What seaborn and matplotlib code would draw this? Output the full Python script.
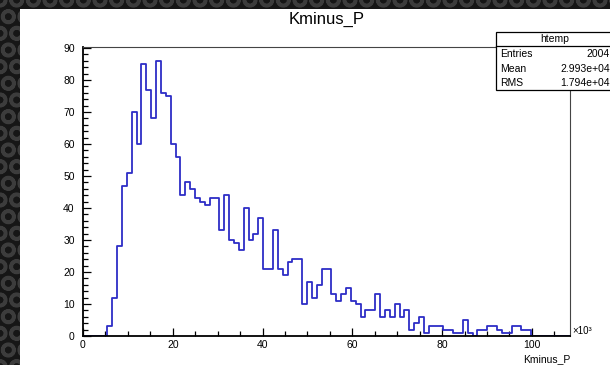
import numpy as np
import pandas as pd
import matplotlib.pyplot as plt
import matplotlib.patches as patches
from matplotlib.lines import Line2D
from matplotlib.ticker import MultipleLocator
import seaborn as sns

plt.rcParams['font.family'] = ['Liberation Sans', 'DejaVu Sans']
plt.rcParams['hatch.linewidth'] = 2.5

# htemp: 100 bins between 0 and 108.5 (x10^3), filled bins start at bin 5
x_range = (0, 108.5)
n_bins = 100
first_bin = 5
counts = [3, 12, 28, 47, 51, 70, 60, 85, 77, 68, 86, 76, 75, 60, 56,
          44, 48, 46, 43, 42, 41, 43, 43, 33, 44, 30, 29, 27, 40, 30, 32, 37,
          21, 21, 33, 21, 19, 23, 24, 24, 10, 17, 12, 16, 21, 21, 13, 11, 13, 15,
          11, 10, 6, 8, 8, 13, 6, 8, 6,
          10, 6, 8, 2, 4, 6, 1, 3, 3, 3, 2, 2, 1, 1, 5, 1, 0,
          2, 2, 3, 3, 2, 1, 1, 3, 3, 2, 2]

# stats box
stat_names = ['Entries', 'Mean', 'RMS']
stat_values = ['2004', '2.993e+04', '1.794e+04']

edges = np.linspace(x_range[0], x_range[1], n_bins + 1)
weights = np.zeros(n_bins)
weights[first_bin:first_bin + len(counts)] = counts
df = pd.DataFrame({'Kminus_P': (edges[:-1] + edges[1:]) / 2, 'w': weights})

W, H = 610, 365
fig = plt.figure(figsize=(6.1, 3.65), dpi=100)
fig.patch.set_facecolor('#161616')

# dark textured screen border + white canvas
bg = patches.Rectangle((0, 0), 1, 1, transform=fig.transFigure, facecolor='#161616',
                       edgecolor='#3c3c3c', hatch='O', lw=0, zorder=-3)
fig.patches.append(bg)
canvas = patches.Rectangle((20 / W, 0), 1, 1 - 9 / H, transform=fig.transFigure,
                           facecolor='white', edgecolor='none', zorder=-2)
fig.patches.append(canvas)

ax = fig.add_axes([83 / W, 29 / H, 487 / W, 289 / H])
ax.set_facecolor('white')
sns.histplot(data=df, x='Kminus_P', weights='w', bins=list(edges), element='step', fill=False,
             color='#2d2dc6', linewidth=1.3, ax=ax)

ax.set_xlim(*x_range)
ax.set_ylim(0, 1.05 * max(counts))
ax.xaxis.set_major_locator(MultipleLocator(20))
ax.xaxis.set_minor_locator(MultipleLocator(5))
ax.yaxis.set_major_locator(MultipleLocator(10))
ax.yaxis.set_minor_locator(MultipleLocator(2))
ax.tick_params(which='both', direction='in', labelsize=7.5, width=0.9, colors='black')
ax.tick_params(which='major', length=6)
ax.tick_params(which='minor', length=3.5)
ax.tick_params(axis='x', pad=3)
ax.tick_params(axis='y', pad=6)
for side in ['left', 'bottom']:
    ax.spines[side].set_linewidth(1.3)
for side in ['top', 'right']:
    ax.spines[side].set_linewidth(0.8)
    ax.spines[side].set_color('#444444')

ax.set_ylabel('')
ax.set_xlabel('Kminus_P', fontsize=7.5, loc='right', labelpad=3)
fig.text(572 / W, 1 - 331 / H, '×10³', fontsize=7, ha='left', va='center')

fig.text(327 / W, 1 - 19 / H, 'Kminus_P', fontsize=12, ha='center', va='center')

# stats box
box = patches.Rectangle((496 / W, 1 - 90 / H), 0.3, 58 / H, transform=fig.transFigure,
                        facecolor='white', edgecolor='black', lw=0.9, zorder=5)
fig.patches.append(box)
fig.lines.append(Line2D([496 / W, 1], [1 - 46 / H, 1 - 46 / H], transform=fig.transFigure,
                        color='black', lw=0.9, zorder=6))
fig.text(555 / W, 1 - 39 / H, 'htemp', fontsize=7.5, ha='center', va='center', zorder=6)
for i, (name, val) in enumerate(zip(stat_names, stat_values)):
    y = 1 - (54 + 14.5 * i) / H
    fig.text(500 / W, y, name, fontsize=7.5, ha='left', va='center', zorder=6)
    fig.text(610 / W, y, val, fontsize=7.5, ha='right', va='center', zorder=6)

plt.savefig('out.png', dpi=100)
